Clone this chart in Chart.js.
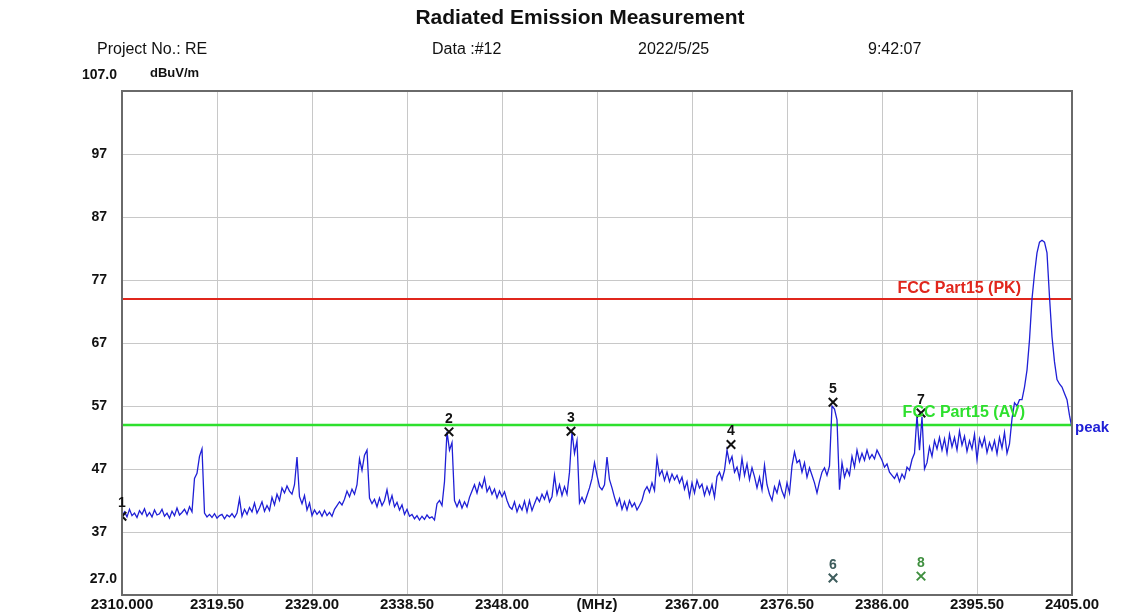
<!DOCTYPE html>
<html>
<head>
<meta charset="utf-8">
<script src="https://cdn.jsdelivr.net/npm/chart.js@4.4.0/dist/chart.umd.min.js"></script>
<style>
html, body { margin: 0; padding: 0; background: #fff; }
canvas { display: block; }
</style>
</head>
<body>
<canvas id="chart" width="1144" height="615"></canvas>
<script>
// Barrido del analizador: 2310 - 2405 MHz, un punto cada 0.25 MHz
var sweepStart = 2310.0;
var sweepStep = 0.25;
var traceLevels = [
    39.5, 40.2, 39.4, 40.6,  39.6, 40.0, 39.3, 40.4,  39.8, 40.7, 39.5, 40.1,  39.4, 40.5, 39.7, 39.9,
    40.6, 39.5, 40.0, 39.2,  40.3, 39.6, 40.8, 39.7,  40.1, 40.6, 39.8, 41.0,  40.2, 45.5, 46.3, 49.0,
    50.2, 40.0, 39.4, 39.8,  39.3, 39.9, 39.2, 39.6,  39.8, 39.1, 39.7, 39.4,  39.9, 39.3, 40.0, 42.3,
    39.5, 40.6, 39.8, 40.9,  40.2, 41.6, 40.0, 40.8,  41.8, 40.3, 41.2, 40.4,  42.5, 41.3, 43.0, 42.0,
    44.0, 43.2, 44.3, 43.5,  43.0, 44.5, 48.9, 42.6,  41.5, 42.8, 40.5, 41.6,  39.6, 40.5, 39.8, 40.3,
    39.5, 40.4, 39.6, 40.1,  39.5, 40.6, 41.2, 41.8,  41.3, 42.2, 43.5, 42.6,  43.8, 43.0, 44.5, 48.6,
    46.8, 49.2, 50.0, 42.4,  41.5, 42.2, 41.0, 42.4,  41.2, 42.0, 43.7, 41.5,  42.8, 41.0, 41.7, 40.5,
    41.3, 39.8, 40.6, 39.5,  39.8, 39.1, 39.6, 38.9,  39.5, 39.0, 39.7, 39.2,  39.4, 38.9, 41.5, 42.0,
    41.2, 45.0, 52.9, 50.0,  51.2, 42.0, 41.0, 42.0,  40.8, 41.8, 41.0, 42.5,  43.5, 44.5, 43.2, 44.8,
    44.0, 45.6, 43.4, 44.2,  43.0, 43.8, 42.4, 43.5,  42.6, 43.4, 42.0, 41.0,  40.6, 41.8, 40.2, 41.3,
    40.5, 41.9, 40.2, 42.0,  40.4, 41.5, 42.5, 41.8,  43.0, 42.2, 43.4, 41.8,  42.6, 46.0, 43.0, 44.5,
    42.8, 44.2, 43.0, 46.5,  52.9, 49.5, 51.5, 41.6,  42.5, 41.6, 42.8, 44.0,  45.5, 48.0, 46.0, 44.2,
    43.7, 44.5, 48.9, 45.3,  44.0, 42.5, 41.2, 42.3,  40.6, 41.8, 40.5, 42.0,  41.0, 41.6, 40.5, 41.2,
    42.0, 43.5, 44.2, 43.3,  44.8, 43.6, 48.7, 46.0,  46.8, 45.2, 46.5, 45.0,  46.2, 45.3, 46.0, 44.8,
    45.7, 43.8, 45.0, 42.6,  44.8, 43.2, 45.2, 44.0,  44.6, 42.8, 44.2, 43.0,  44.5, 42.5, 45.8, 46.5,
    45.3, 46.8, 50.0, 48.0,  49.0, 46.5, 47.3, 45.5,  48.7, 46.0, 47.8, 45.3,  47.2, 45.8, 44.0, 45.7,
    43.7, 47.6, 44.5, 43.0,  42.0, 44.2, 43.2, 45.0,  43.5, 42.5, 44.8, 43.2,  47.5, 49.7, 48.0, 48.4,
    46.5, 48.0, 45.7, 47.2,  46.0, 44.8, 43.2, 45.0,  46.5, 47.2, 46.0, 47.5,  57.0, 56.5, 54.8, 43.7,
    48.0, 45.7, 47.0, 46.0,  49.0, 47.3, 50.0, 48.2,  49.5, 48.4, 50.0, 48.6,  49.3, 48.6, 50.0, 49.2,
    48.4, 47.3, 47.8, 46.5,  46.0, 45.5, 46.3, 45.0,  46.2, 45.5, 47.3, 46.8,  48.5, 49.5, 55.5, 50.0,
    55.3, 47.0, 48.0, 50.5,  49.0, 51.5, 50.2, 52.0,  50.0, 51.8, 49.5, 52.5,  50.5, 52.0, 50.0, 53.0,
    50.8, 52.2, 49.8, 51.5,  50.2, 52.5, 48.5, 51.8,  50.5, 52.0, 49.6, 51.2,  50.0, 51.5, 49.4, 52.0,
    50.3, 52.8, 49.5, 51.0,  55.0, 57.5, 57.0, 58.0,  58.0, 60.0, 62.7, 67.5,  74.0, 78.0, 81.3, 83.0,
    83.3, 83.0, 81.3, 74.3,  68.0, 64.0, 61.2, 60.5,  60.0, 59.0, 58.0, 55.5,
    53.5
];

// Ejes
var xTicks = [2310, 2319.5, 2329, 2338.5, 2348, 2357.5, 2367, 2376.5, 2386, 2395.5, 2405];
var xTickLabels = ["2310.000", "2319.50", "2329.00", "2338.50", "2348.00", "(MHz)",
                   "2367.00", "2376.50", "2386.00", "2395.50", "2405.00"];
var yTicks = [27, 37, 47, 57, 67, 77, 87, 97, 107];
var yTickLabels = ["27.0", "37", "47", "57", "67", "77", "87", "97", "107.0"];

// Limites FCC
var limitNames = ["FCC Part15 (PK)", "FCC Part15 (AV)"];
var limitLevels = [74, 54];

// Marcadores
var markerNames = ["1", "2", "3", "4", "5", "6", "7", "8"];
var markerFreqs = [2310.0, 2342.7, 2354.9, 2370.9, 2381.1, 2381.1, 2389.9, 2389.9];
var markerLevels = [39.5, 52.9, 53.0, 50.9, 57.6, 29.7, 55.9, 30.0];

var tracePoints = traceLevels.map((v, i) => ({x: sweepStart + i * sweepStep, y: v}));
var pkLine = [{x: 2310, y: limitLevels[0]}, {x: 2405, y: limitLevels[0]}];
var avLine = [{x: 2310, y: limitLevels[1]}, {x: 2405, y: limitLevels[1]}];
var markerPoints = markerFreqs.map((f, i) => ({x: f, y: markerLevels[i]}));
var markerColors = ["#111", "#111", "#111", "#111", "#111", "#3d5c5c", "#111", "#3f8f3f"];

var FONT = "'Liberation Sans', Arial, sans-serif";

// Textos de cabecera, etiquetas y marco
var textos = {
    id: "textos",
    afterDraw(chart) {
        var ctx = chart.ctx;
        var a = chart.chartArea;
        var xs = chart.scales.x;
        var ys = chart.scales.y;
        ctx.save();

        ctx.strokeStyle = "#6a6a6a";
        ctx.lineWidth = 2;
        ctx.strokeRect(a.left, a.top, a.right - a.left, a.bottom - a.top);

        ctx.fillStyle = "#111";
        ctx.textBaseline = "middle";
        ctx.textAlign = "center";
        ctx.font = "bold 21px " + FONT;
        ctx.fillText("Radiated Emission Measurement", 580, 18);

        ctx.textAlign = "left";
        ctx.font = "16px " + FONT;
        ctx.fillText("Project No.: RE", 97, 50);
        ctx.fillText("Data :#12", 432, 50);
        ctx.fillText("2022/5/25", 638, 50);
        ctx.fillText("9:42:07", 868, 50);

        ctx.font = "bold 13px " + FONT;
        ctx.fillText("dBuV/m", 150, 73);
        ctx.textAlign = "right";
        ctx.font = "bold 14px " + FONT;
        ctx.fillText(yTickLabels[yTickLabels.length - 1], 117, 75);
        ctx.fillText(yTickLabels[0], 117, 579);

        // nombres de limites
        ctx.font = "bold 16px " + FONT;
        ctx.fillStyle = "#e0261c";
        ctx.fillText(limitNames[0], 1021, ys.getPixelForValue(limitLevels[0]) - 10);
        ctx.fillStyle = "#2ee02e";
        ctx.fillText(limitNames[1], 1025, ys.getPixelForValue(limitLevels[1]) - 12);

        // numeros de marcadores
        ctx.textAlign = "center";
        ctx.font = "bold 14px " + FONT;
        markerNames.forEach((n, i) => {
            ctx.fillStyle = markerColors[i];
            ctx.fillText(n, xs.getPixelForValue(markerFreqs[i]), ys.getPixelForValue(markerLevels[i]) - 13);
        });

        ctx.textAlign = "left";
        ctx.fillStyle = "#1f1fd6";
        ctx.font = "bold 15px " + FONT;
        ctx.fillText("peak", a.right + 3, ys.getPixelForValue(traceLevels[traceLevels.length - 1]));
        ctx.restore();
    }
};

var ctx = document.getElementById("chart").getContext("2d");
var chart = new Chart(ctx, {
    type: "line",
    data: {
        datasets: [
            {
                label: "peak",
                data: tracePoints,
                borderColor: "#1f1fd6",
                borderWidth: 1.3,
                pointRadius: 0,
                order: 0
            },
            {
                label: limitNames[0],
                data: pkLine,
                borderColor: "#e0261c",
                borderWidth: 2,
                pointRadius: 0,
                order: 1
            },
            {
                label: limitNames[1],
                data: avLine,
                borderColor: "#2ee02e",
                borderWidth: 2.5,
                pointRadius: 0,
                order: 1
            },
            {
                type: "scatter",
                label: "markers",
                data: markerPoints,
                pointStyle: "crossRot",
                pointRadius: 6,
                borderWidth: 2,
                borderColor: markerColors,
                backgroundColor: markerColors,
                order: -1
            }
        ]
    },
    options: {
        responsive: false,
        animation: false,
        devicePixelRatio: 1,
        layout: {padding: {top: 91, left: 0, right: 72, bottom: 0}},
        plugins: {legend: {display: false}, tooltip: {enabled: false}},
        scales: {
            x: {
                type: "linear",
                min: 2310,
                max: 2405,
                afterBuildTicks: axis => { axis.ticks = xTicks.map(v => ({value: v})); },
                afterFit: axis => { axis.height = 20; },
                grid: {color: "#c8c8c8", lineWidth: 1, drawTicks: false},
                border: {display: false},
                ticks: {
                    autoSkip: false,
                    maxRotation: 0,
                    padding: 1,
                    color: "#111",
                    font: {family: FONT, size: 15, weight: "bold"},
                    callback: (v, i) => xTickLabels[i]
                }
            },
            y: {
                min: 27,
                max: 107,
                afterBuildTicks: axis => { axis.ticks = yTicks.map(v => ({value: v})); },
                afterFit: axis => { axis.width = 122; axis.paddingTop = 0; axis.paddingBottom = 0; },
                grid: {color: "#c8c8c8", lineWidth: 1, drawTicks: false},
                border: {display: false},
                ticks: {
                    padding: 15,
                    color: "#111",
                    font: {family: FONT, size: 14, weight: "bold"},
                    callback: (v, i) => (i === 0 || i === yTicks.length - 1) ? "" : yTickLabels[i]
                }
            }
        }
    },
    plugins: [textos]
});
</script>
</body>
</html>
